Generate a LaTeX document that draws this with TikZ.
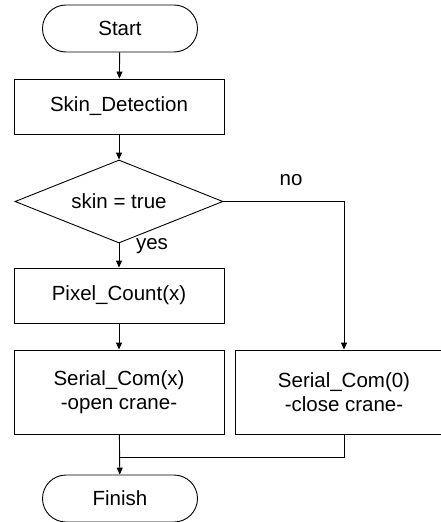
\documentclass[tikz,border=0pt]{standalone}
\usepackage{fontspec}
\setmainfont{Liberation Sans}
\usetikzlibrary{shapes.geometric,shapes.misc,arrows.meta}

\begin{document}
\begin{tikzpicture}[x=1pt, y=-1pt,
    terminal/.style={rounded rectangle, draw, minimum width=155pt, minimum height=47pt, inner sep=0pt},
    process/.style={rectangle, draw, minimum width=210pt, minimum height=55pt, inner sep=0pt, align=center},
    decision/.style={diamond, draw, aspect=2.5, minimum width=208pt, minimum height=83pt, inner sep=0pt},
    arrow/.style={-{Triangle[length=7pt, width=6pt]}},
    every node/.style={font=\fontsize{20.5}{24}\selectfont},
    line width=0.9pt
]
    \useasboundingbox (0,0) rectangle (440,522);

    % Main column
    \node[terminal] (start) at (120, 28.5) {Start};
    \node[process] (skin) at (119, 106.5) {Skin\_Detection};
    \node[decision] (check) at (119, 201.5) {skin = true};
    \node[process] (count) at (119, 295.5) {Pixel\_Count(x)};
    \node[process, minimum height=84pt] (open) at (119, 392) {Serial\_Com(x)\\-open crane-};
    \node[terminal] (finish) at (120, 498.5) {Finish};

    % Right branch
    \node[process, minimum height=84pt, minimum width=218pt] (close) at (344, 392) {Serial\_Com(0)\\-close crane-};

    % Branch labels
    \node (no) at (291, 180) {no};
    \node (yes) at (152, 246) {yes};

    \coordinate (join) at (open.south |- 0, 457);

    % Connectors
    \draw[arrow] (start) -- (skin);
    \draw[arrow] (skin) -- (check);
    \draw[arrow] (check) -- (count);
    \draw[arrow] (count) -- (open);
    \draw[arrow] (check.east) -| (close.north);
    \draw[arrow] (open) -- (finish);
    \draw (close.south) |- (join);
\end{tikzpicture}
\end{document}
